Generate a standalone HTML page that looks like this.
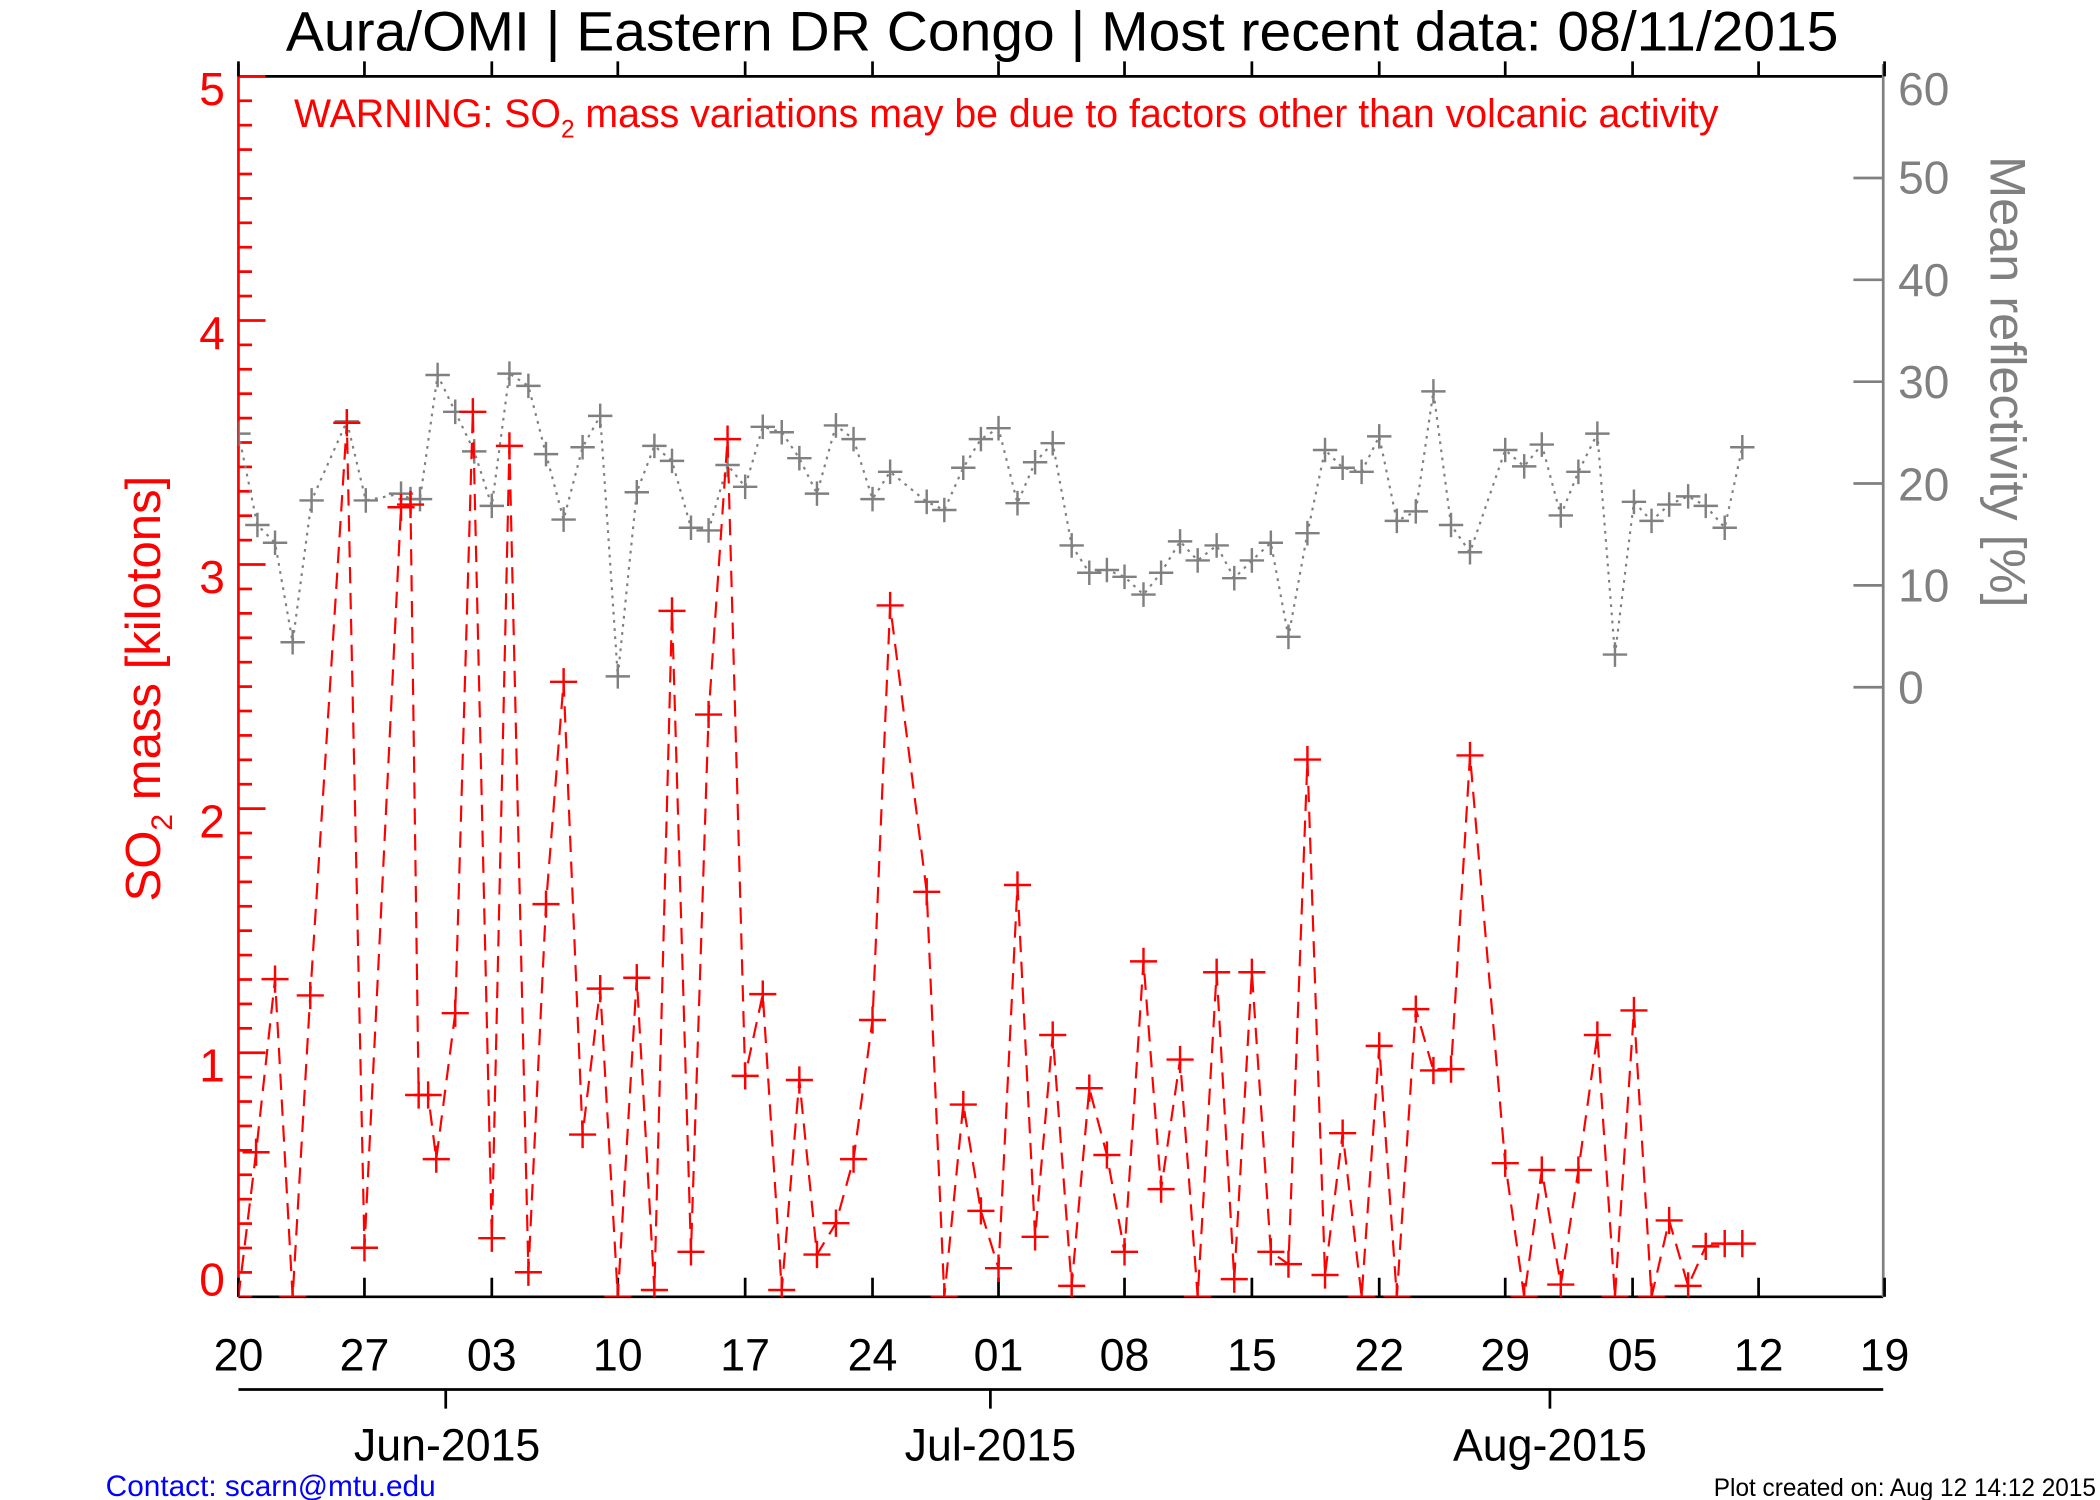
<!DOCTYPE html>
<html><head><meta charset="utf-8"><style>html,body{margin:0;padding:0;background:#fff}svg{display:block}</style></head>
<body>
<svg width="2100" height="1500" viewBox="0 0 1550 1100" preserveAspectRatio="none" xmlns="http://www.w3.org/2000/svg" font-family="Liberation Sans, sans-serif">
<rect width="1550" height="1100" fill="#fff"/>
<text x="784" y="37" font-size="41" text-anchor="middle" fill="#000" textLength="1146" lengthAdjust="spacingAndGlyphs">Aura/OMI | Eastern DR Congo | Most recent data: 08/11/2015</text>
<g id="box" stroke-width="2" fill="none">
<line x1="176" y1="56" x2="1390" y2="56" stroke="#000"/>
<line x1="176" y1="951" x2="1390" y2="951" stroke="#000"/>
<line x1="176" y1="47" x2="176" y2="951" stroke="#f00"/>
<line x1="1390" y1="47" x2="1390" y2="951" stroke="#808080"/>
<line x1="176" y1="56" x2="196" y2="56" stroke="#f00"/>
<line x1="176" y1="1019" x2="1390" y2="1019" stroke="#000"/>
<line x1="329" y1="1019" x2="329" y2="1033" stroke="#000"/>
<line x1="731" y1="1019" x2="731" y2="1033" stroke="#000"/>
<line x1="1144" y1="1019" x2="1144" y2="1033" stroke="#000"/>
</g>
<g id="ticks"></g>
<g font-size="33" fill="#000" text-anchor="middle">
<text x="176" y="1005">20</text><text x="269" y="1005">27</text><text x="363" y="1005">03</text><text x="456" y="1005">10</text><text x="550" y="1005">17</text><text x="644" y="1005">24</text><text x="737" y="1005">01</text><text x="830" y="1005">08</text><text x="924" y="1005">15</text><text x="1018" y="1005">22</text><text x="1111" y="1005">29</text><text x="1205" y="1005">05</text><text x="1298" y="1005">12</text><text x="1391" y="1005">19</text>
<text x="330" y="1071">Jun-2015</text><text x="731" y="1071">Jul-2015</text><text x="1144" y="1071">Aug-2015</text>
</g>
<g font-size="34" fill="#f00" text-anchor="end">
<text x="166" y="77">5</text><text x="166" y="256">4</text><text x="166" y="435">3</text><text x="166" y="614">2</text><text x="166" y="793">1</text><text x="166" y="950">0</text>
</g>
<g font-size="34" fill="#808080">
<text x="1401" y="77">60</text><text x="1401" y="142">50</text><text x="1401" y="217">40</text><text x="1401" y="292">30</text><text x="1401" y="367">20</text><text x="1401" y="441">10</text><text x="1401" y="516">0</text>
<text transform="translate(1469,280) rotate(90)" font-size="37" text-anchor="middle">Mean reflectivity [%]</text>
</g>
<text transform="translate(118,505) rotate(-90)" font-size="36" fill="#f00" text-anchor="middle">SO<tspan font-size="22" dy="9">2</tspan><tspan dy="-9"> mass [kilotons]</tspan></text>
<text x="217" y="93" font-size="29" fill="#f00">WARNING: SO<tspan font-size="18" dy="8">2</tspan><tspan dy="-8"> mass variations may be due to factors other than volcanic activity</tspan></text>
<text x="78" y="1097" font-size="22" fill="#00f">Contact: scarn@mtu.edu</text>
<text x="1547" y="1097" font-size="18" fill="#000" text-anchor="end">Plot created on: Aug 12 14:12 2015</text>
<defs><clipPath id="c"><rect x="176" y="40" width="1214" height="911"/></clipPath></defs>
<g id="series" clip-path="url(#c)"></g>
<script>
var NS="http://www.w3.org/2000/svg";
function el(p,t,a){var e=document.createElementNS(NS,t);for(var k in a)e.setAttribute(k,a[k]);p.appendChild(e);return e;}
var tk=document.getElementById('ticks');
for(var i=1;i<50;i++){var y=56+i*17.9;var L=(i%10==0)?20:10;el(tk,'line',{x1:176,y1:y,x2:176+L,y2:y,stroke:'#f00','stroke-width':2});}
for(var v=0;v<=50;v+=10){var y=504-v*7.47;el(tk,'line',{x1:1368,y1:y,x2:1390,y2:y,stroke:'#808080','stroke-width':2});}
var xs=[176,269,363,456,550,644,737,830,924,1018,1111,1205,1298,1391];
xs.forEach(function(x){el(tk,'line',{x1:x,y1:951,x2:x,y2:937,stroke:'#000','stroke-width':2});el(tk,'line',{x1:x,y1:56,x2:x,y2:45,stroke:'#000','stroke-width':2});});
var red=[[176,951],[189,845],[203,718],[216,951],[229,730],[256,310],[269,915],[296,372],[303,370],[309,803],[316,803],[322,850],[336,743],[349,302],[363,908],[376,327],[390,933],[403,663],[416,500],[430,832],[443,725],[456,951],[470,717],[483,946],[496,448],[510,918],[523,524],[537,322],[550,789],[563,729],[577,946],[590,792],[603,920],[617,897],[630,850],[644,748],[657,444],[684,654],[697,951],[711,810],[724,888],[737,930],[751,649],[764,907],[777,759],[791,943],[804,798],[817,847],[830,918],[844,705],[857,872],[871,777],[884,951],[898,713],[911,938],[924,713],[938,918],[951,927],[965,557],[978,935],[991,831],[1005,951],[1018,767],[1031,951],[1045,740],[1058,785],[1071,784],[1085,554],[1111,853],[1125,951],[1138,858],[1152,942],[1165,858],[1179,759],[1192,951],[1206,741],[1219,951],[1232,895],[1246,943],[1259,914],[1273,912],[1286,912]];
var gray=[[176,318],[190,385],[203,398],[216,471],[230,367],[256,309],[270,367],[296,362],[303,366],[310,366],[323,275],[336,302],[350,331],[363,371],[376,274],[390,283],[403,333],[416,381],[430,328],[443,305],[456,496],[470,361],[483,327],[496,338],[510,387],[523,389],[537,341],[550,357],[563,313],[577,317],[590,336],[603,362],[617,312],[630,322],[644,366],[657,346],[684,368],[697,374],[711,343],[724,322],[737,314],[751,369],[764,339],[777,325],[791,400],[804,420],[817,418],[830,423],[844,436],[857,420],[871,397],[884,411],[898,400],[911,424],[924,411],[938,398],[951,467],[965,391],[978,330],[991,343],[1005,346],[1018,320],[1031,382],[1045,375],[1058,287],[1071,385],[1085,405],[1111,330],[1125,342],[1138,326],[1152,378],[1165,346],[1179,318],[1192,480],[1206,368],[1219,382],[1232,370],[1246,364],[1259,371],[1273,387],[1286,328]];
var s=document.getElementById('series');
function draw(d,col,dash,sz){el(s,'polyline',{points:d.map(function(p){return p.join(',')}).join(' '),fill:'none',stroke:col,'stroke-width':1.6,'stroke-dasharray':dash});
d.forEach(function(p){el(s,'path',{d:'M'+(p[0]-sz)+','+p[1]+'h'+(2*sz)+'M'+p[0]+','+(p[1]-sz)+'v'+(2*sz),stroke:col,'stroke-width':1.8,fill:'none'});});}
draw(gray,'#808080','2,4',9);
draw(red,'#f00','12,7',10);
</script>
</svg>
</body></html>
